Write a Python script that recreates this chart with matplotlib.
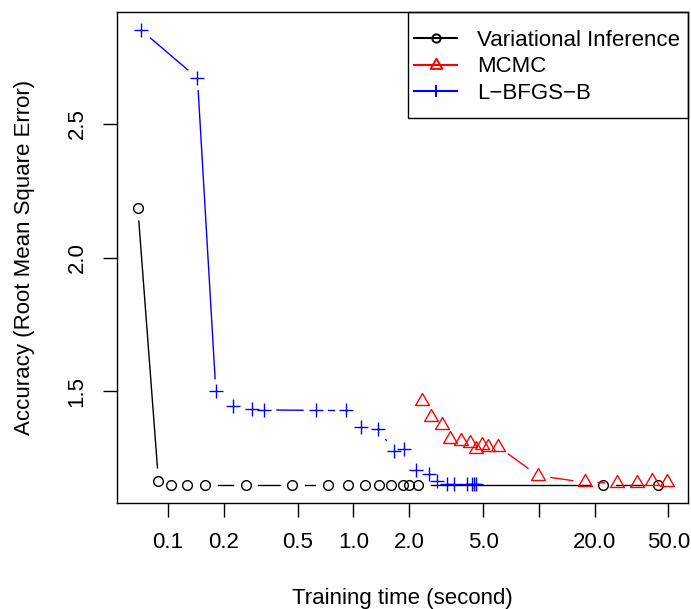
import numpy as np
import matplotlib
matplotlib.use('Agg')
import matplotlib.pyplot as plt
from matplotlib.lines import Line2D
from matplotlib.patches import Rectangle
from matplotlib.path import Path

plt.rcParams['font.family'] = ['Liberation Sans', 'DejaVu Sans']
FS = 16

# values
vi_time = [0.0687, 0.0887, 0.104, 0.126, 0.159, 0.262, 0.468, 0.725, 0.936,
           1.15, 1.38, 1.59, 1.84, 2.00, 2.24, 22.2, 43.8]
vi_rmse = [2.184, 1.167, 1.152, 1.151, 1.151, 1.151, 1.151, 1.151, 1.151,
           1.151, 1.151, 1.151, 1.151, 1.151, 1.151, 1.151, 1.151]

mcmc_time = [2.34, 2.62, 2.99, 3.33, 3.78, 4.24, 4.57, 4.96, 5.34, 6.02,
             9.92, 17.8, 26.4, 33.8, 40.7, 49.0]
mcmc_rmse = [1.463, 1.406, 1.375, 1.323, 1.316, 1.306, 1.285, 1.301, 1.291,
             1.294, 1.185, 1.160, 1.158, 1.158, 1.167, 1.160]

lbfgs_time = [0.0713, 0.144, 0.181, 0.223, 0.285, 0.330, 0.625, 0.914, 1.10,
              1.36, 1.65, 1.88, 2.17, 2.54, 2.81, 3.21, 3.49, 4.12, 4.35,
              4.47, 4.60]
lbfgs_rmse = [2.851, 2.671, 1.500, 1.445, 1.435, 1.431, 1.429, 1.429, 1.366,
              1.358, 1.279, 1.285, 1.207, 1.192, 1.167, 1.154, 1.154, 1.154,
              1.154, 1.154, 1.154]

xticks = [0.1, 0.2, 0.5, 1.0, 2.0, 5.0, 10.0, 20.0, 50.0]
xticklabels = ['0.1', '0.2', '0.5', '1.0', '2.0', '5.0', '', '20.0', '50.0']
yticks = [1.5, 2.0, 2.5]
labels = ['Variational Inference', 'MCMC', 'L\u2212BFGS\u2212B']

# equilateral triangle like R pch=2
tri = Path([(0, 1), (-0.866, -0.5), (0.866, -0.5), (0, 1)],
           [Path.MOVETO, Path.LINETO, Path.LINETO, Path.CLOSEPOLY])

W, H = 691, 609
fig = plt.figure(figsize=(W / 100, H / 100), dpi=100)
ax = fig.add_axes([116.7 / W, 1 - 503 / H, (688 - 116.7) / W, (503 - 11.7) / H])
ax.set_xscale('log')

# R style axis limits (4% extension)
allx = np.log10(vi_time + mcmc_time + lbfgs_time)
ally = np.array(vi_rmse + mcmc_rmse + lbfgs_rmse)
dx = 0.04 * (allx.max() - allx.min())
dy = 0.04 * (ally.max() - ally.min())
ax.set_xlim(10 ** (allx.min() - dx), 10 ** (allx.max() + dx))
ax.set_ylim(ally.min() - dy, ally.max() + dy)


def gapped(xs, ys, color, gap=12.7):
    # type="b": line segments that stop short of the points
    pts = ax.transData.transform(np.column_stack([xs, ys]))
    inv = ax.transData.inverted()
    for p, q in zip(pts[:-1], pts[1:]):
        d = q - p
        L = np.hypot(d[0], d[1])
        if L <= 2 * gap:
            continue
        u = d / L
        a = inv.transform(p + u * gap)
        b = inv.transform(q - u * gap)
        ax.plot([a[0], b[0]], [a[1], b[1]], color=color, lw=1.0)


series = [
    (vi_time, vi_rmse, 'black', 'o', 7),
    (mcmc_time, mcmc_rmse, 'red', tri, 11.5),
    (lbfgs_time, lbfgs_rmse, 'blue', '+', 10),
]
handles = []
for xs, ys, col, mk, ms in series:
    gapped(xs, ys, col)
    ax.plot(xs, ys, linestyle='none', marker=mk, ms=ms, mfc='none',
            mec=col, mew=1.0)
    handles.append(Line2D([], [], color=col, lw=1.5, marker=mk, ms=ms * 0.85,
                          mfc='none', mec=col, mew=1.4))

ax.set_xticks(xticks)
ax.set_xticklabels(xticklabels)
ax.xaxis.set_minor_locator(matplotlib.ticker.NullLocator())
ax.set_yticks(yticks)
ax.set_yticklabels(['1.5', '2.0', '2.5'])
ax.tick_params(axis='both', direction='out', length=10, width=1.0,
               labelsize=FS, pad=11)
ax.tick_params(axis='y', labelrotation=90)
for t in ax.get_yticklabels():
    t.set_va('center')

for s in ax.spines.values():
    s.set_linewidth(1.0)

ax.set_xlabel('Training time (second)', fontsize=FS, labelpad=25)
ax.set_ylabel('Accuracy (Root Mean Square Error)', fontsize=FS, labelpad=23)

# legend box
bx = (408.3 - 116.7) / (688 - 116.7)
by = (503 - 118.3) / (503 - 11.7)
ax.add_patch(Rectangle((bx, by), 1 - bx, 1 - by, transform=ax.transAxes,
                       fill=False, ec='black', lw=1.0, clip_on=False, zorder=5))
ax.legend(handles, labels, loc='center left', bbox_to_anchor=(bx, 0.8875),
          frameon=False, fontsize=FS, borderpad=0.25, handlelength=1.95,
          handletextpad=0.88, labelspacing=0.25, numpoints=1,
          borderaxespad=0)

fig.savefig('out.png', dpi=100)
